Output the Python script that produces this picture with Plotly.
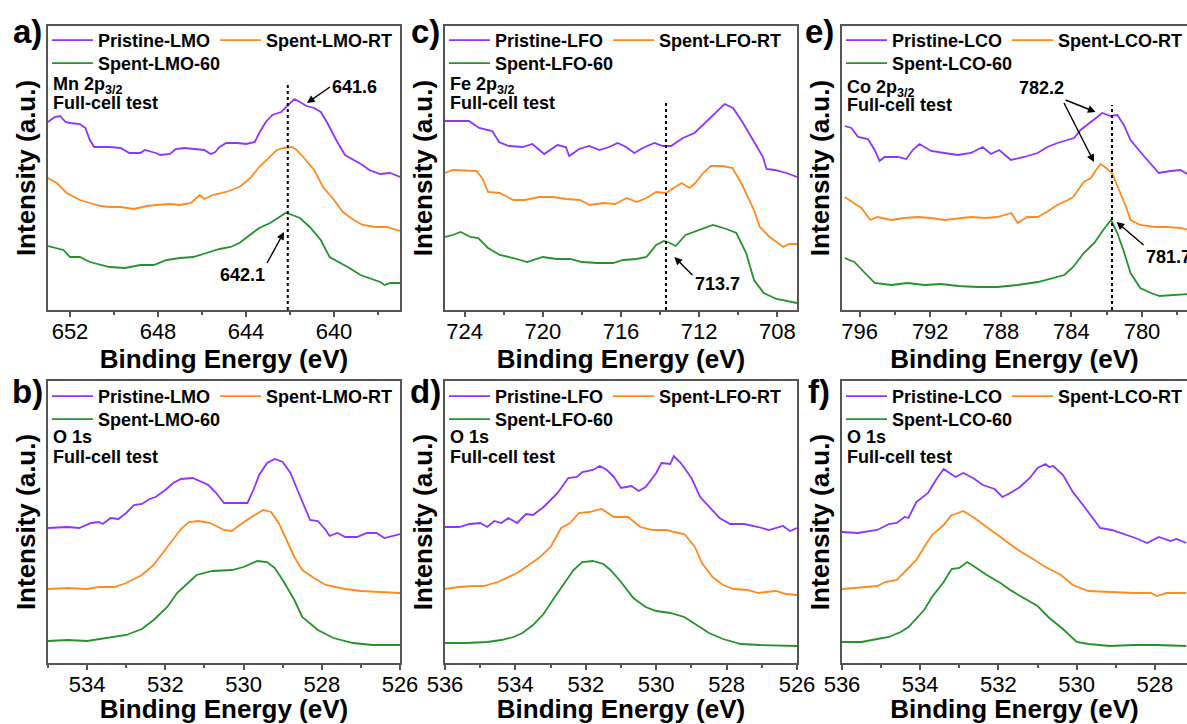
import numpy as np
import plotly.graph_objects as go

FONT = "Liberation Sans, Arial, sans-serif"
W, H = 1187, 724
PURPLE = "#8F33FF"
ORANGE = "#FF8A1F"
GREEN = "#23932A"
FRAME = "#555555"

# ---------------- data (binding energy eV, offset intensity a.u.) -------------
# a) Mn 2p3/2
mn_pristine_be = [653.0, 652.7, 652.45, 652.2, 652.0, 651.55, 651.3, 651.1, 650.9, 650.2, 649.7, 649.3, 648.8, 648.6,
                  648.1, 647.9, 647.45, 647.2, 646.8, 646.3, 645.9, 645.6, 645.4, 645.2, 644.9, 644.4, 644.0, 643.6,
                  643.4, 643.1, 642.8, 642.4, 642.15, 641.95, 641.8, 641.55, 641.25, 640.9, 640.6, 640.3, 639.9,
                  639.5, 639.1, 638.7, 638.4, 637.9, 637.45, 637.0]
mn_pristine_int = [188, 193, 194, 188, 187, 186, 182, 170, 163, 163, 162, 157, 157, 160, 157, 155, 156, 161, 162, 161,
                   160, 156, 158, 163, 167, 167, 166, 168, 177, 188, 195, 198, 203, 208, 211, 208, 204, 202, 198, 187,
                   170, 155, 150, 145, 140, 136, 137, 133]
mn_rt_be = [653.0, 652.6, 652.15, 651.55, 651.1, 650.6, 650.2, 649.7, 649.1, 648.5, 648.1, 647.45, 647.0, 646.5,
            646.1, 645.9, 645.5, 644.9, 644.3, 643.8, 643.4, 642.9, 642.6, 642.3, 641.9, 641.7, 641.4, 640.9,
            640.5, 640.0, 639.6, 639.1, 638.7, 638.1, 637.6, 637.0]
mn_rt_int = [132, 127, 117, 110, 107, 104, 103, 103, 101, 104, 105, 106, 105, 107, 115, 111, 115, 118, 123, 132, 143,
             153, 160, 162, 163, 160, 153, 140, 123, 110, 98, 90, 85, 83, 83, 79]
mn_60_be = [653.0, 652.6, 652.3, 652.0, 651.55, 651.1, 650.6, 650.2, 649.5, 648.8, 648.2, 647.6, 647.0, 646.4, 645.8,
            645.2, 644.7, 644.3, 643.7, 643.4, 642.9, 642.45, 642.2, 641.9, 641.55, 641.1, 640.6, 640.2, 639.7,
            639.3, 638.8, 638.4, 637.9, 637.7, 637.45, 637.0]
mn_60_int = [64, 62, 60, 53, 53, 48, 45, 43, 42, 45, 45, 50, 52, 53, 57, 61, 63, 67, 77, 82, 87, 93, 97, 95, 92, 83,
             70, 53, 47, 42, 35, 32, 28, 25, 27, 27]

# c) Fe 2p3/2
fe_pristine_be = [725.0, 723.78, 723.26, 722.58, 722.24, 721.73, 721.04, 720.53, 719.93, 719.25, 718.82, 718.65,
                  718.14, 717.62, 717.11, 716.6, 716.17, 715.74, 715.32, 714.89, 714.29, 713.86, 713.44, 712.84,
                  712.24, 711.81, 711.3, 710.7, 710.27, 709.76, 709.25, 708.74, 708.56, 708.14, 707.54, 707.0]
fe_pristine_int = [189, 189, 182, 179, 168, 164, 163, 166, 156, 165, 163, 154, 161, 164, 160, 163, 167, 163, 157, 162,
                   167, 164, 164, 172, 177, 185, 195, 206, 202, 187, 170, 153, 141, 140, 137, 133]
fe_rt_be = [725.0, 724.6, 723.4, 723.1, 722.8, 722.2, 721.5, 720.9, 720.2, 719.5, 718.8, 718.1, 717.6, 716.9, 716.3,
            715.7, 715.2, 714.7, 714.2, 713.7, 713.3, 712.9, 712.5, 712.2, 711.8, 711.4, 710.8, 710.3, 709.8, 709.2,
            708.9, 708.4, 707.7, 707.4, 707.0]
fe_rt_int = [137, 140, 139, 132, 118, 117, 110, 110, 113, 113, 111, 110, 105, 107, 106, 112, 108, 112, 118, 117, 122,
             127, 122, 127, 137, 144, 144, 142, 125, 100, 83, 73, 63, 66, 66]
fe_60_be = [725.0, 724.6, 724.2, 723.7, 723.3, 722.8, 722.2, 721.5, 720.8, 720.0, 719.3, 718.6, 718.0, 717.2, 716.4,
            715.9, 715.2, 714.7, 714.2, 713.8, 713.5, 713.2, 712.7, 712.0, 711.3, 710.6, 710.1, 709.6, 709.2, 708.7,
            708.05, 707.0]
fe_60_int = [73, 75, 78, 73, 72, 62, 55, 52, 48, 53, 51, 51, 48, 47, 47, 50, 51, 53, 65, 69, 67, 64, 75, 80, 85, 81,
             77, 57, 30, 17, 11, 7]

# e) Co 2p3/2
co_pristine_be = [796.85, 796.47, 796.09, 795.53, 795.15, 794.87, 794.59, 793.83, 793.36, 792.99, 792.61, 791.95,
                  791.2, 790.44, 789.69, 789.03, 788.56, 788.09, 787.43, 786.68, 785.92, 785.36, 784.79, 783.85,
                  783.48, 782.91, 782.25, 781.78, 781.4, 781.03, 780.65, 780.09, 779.52, 779.05, 778.39, 777.83,
                  777.43]
co_pristine_int = [184, 182, 173, 171, 160, 149, 153, 153, 151, 160, 166, 159, 157, 155, 157, 163, 156, 160, 150, 153,
                   157, 163, 167, 172, 180, 188, 197, 194, 195, 185, 170, 158, 147, 137, 139, 140, 136]
co_rt_be = [796.85, 796.3, 795.9, 795.4, 795.0, 794.2, 793.5, 792.7, 791.95, 791.2, 790.4, 789.7, 788.9, 788.2,
            787.4, 787.05, 786.5, 785.9, 785.4, 784.8, 784.2, 783.9, 783.3, 782.9, 782.6, 782.35, 782.1, 781.7,
            781.3, 780.9, 780.65, 780.1, 779.3, 778.6, 777.8, 777.4]
co_rt_int = [113, 107, 102, 90, 93, 90, 92, 93, 92, 90, 92, 93, 92, 93, 97, 87, 93, 93, 98, 105, 110, 113, 128, 132,
             140, 146, 143, 137, 120, 103, 90, 85, 83, 83, 82, 80]
co_60_be = [796.85, 796.3, 795.7, 795.15, 794.2, 793.3, 792.3, 791.4, 790.4, 789.3, 788.2, 787.05, 785.9, 785.2,
            784.4, 783.9, 783.3, 782.7, 782.2, 781.75, 781.4, 781.0, 780.65, 780.1, 779.5, 779.0, 778.2, 777.4]
co_60_int = [52, 48, 37, 27, 25, 27, 25, 26, 24, 23, 23, 25, 28, 31, 35, 43, 57, 67, 80, 90, 77, 57, 37, 22, 17, 14,
             15, 16]

# b) O 1s (LMO)
lmo_o_pristine_be = [535.0, 534.5, 534.2, 533.9, 533.7, 533.6, 533.4, 533.2, 533.0, 532.8, 532.6, 532.4, 532.25,
                     532.0, 531.8, 531.6, 531.3, 530.9, 530.7, 530.5, 530.25, 529.9, 529.75, 529.6, 529.4, 529.2,
                     529.0, 528.8, 528.6, 528.4, 528.3, 528.1, 527.9, 527.8, 527.6, 527.4, 527.1, 526.85, 526.6,
                     526.4, 526.0]
lmo_o_pristine_int = [135, 136, 135, 140, 141, 139, 145, 144, 150, 158, 159, 164, 166, 173, 180, 184, 185, 178, 170,
                      160, 160, 160, 173, 188, 200, 204, 201, 190, 171, 151, 143, 142, 133, 127, 130, 126, 126, 130,
                      130, 125, 129]
lmo_o_rt_be = [535.0, 534.5, 534.0, 533.7, 533.3, 533.0, 532.6, 532.3, 531.95, 531.6, 531.4, 531.15, 530.85, 530.5,
               530.3, 530.1, 529.8, 529.5, 529.3, 529.1, 528.9, 528.7, 528.5, 528.2, 527.9, 527.4, 527.0, 526.6,
               526.0]
lmo_o_rt_int = [74, 75, 74, 76, 76, 80, 88, 98, 116, 134, 141, 142, 140, 133, 132, 138, 146, 153, 151, 140, 123, 106,
                93, 85, 78, 74, 72, 71, 70]
lmo_o_60_be = [535.0, 534.5, 534.0, 533.5, 533.0, 532.6, 532.3, 531.95, 531.7, 531.45, 531.2, 530.8, 530.3, 530.0,
               529.65, 529.4, 529.2, 529.0, 528.7, 528.5, 528.1, 527.7, 527.2, 526.7, 526.0]
lmo_o_60_int = [22, 23, 22, 25, 28, 34, 43, 56, 70, 79, 88, 92, 93, 96, 102, 101, 95, 83, 63, 46, 33, 25, 20, 18, 18]

# d) O 1s (LFO)
lfo_o_pristine_be = [536.0, 535.6, 535.3, 535.0, 534.8, 534.6, 534.4, 534.2, 533.95, 533.7, 533.5, 533.2, 532.8,
                     532.5, 532.25, 532.1, 531.8, 531.6, 531.4, 531.2, 531.0, 530.7, 530.5, 530.3, 530.0, 529.85,
                     529.6, 529.5, 529.3, 529.0, 528.75, 528.5, 528.2, 527.9, 527.5, 527.1, 526.8, 526.4, 526.2,
                     526.0]
lfo_o_pristine_int = [136, 136, 139, 140, 136, 142, 140, 145, 140, 149, 148, 156, 170, 185, 186, 191, 193, 197, 193,
                      186, 175, 177, 172, 176, 190, 200, 199, 207, 200, 185, 166, 156, 145, 139, 139, 136, 133, 137,
                      132, 135]
lfo_o_rt_be = [536.0, 535.6, 535.2, 534.9, 534.5, 534.25, 533.95, 533.7, 533.3, 533.0, 532.7, 532.45, 532.2, 531.9,
               531.55, 531.2, 530.8, 530.45, 530.1, 529.7, 529.5, 529.2, 528.9, 528.7, 528.4, 528.1, 527.8, 527.4,
               527.1, 526.9, 526.6, 526.3, 526.0]
lfo_o_rt_int = [74, 76, 77, 77, 81, 85, 90, 96, 106, 116, 135, 140, 150, 151, 154, 146, 146, 136, 133, 133, 131, 129,
                116, 100, 86, 78, 74, 73, 70, 71, 72, 69, 68]
lfo_o_60_be = [536.0, 535.4, 534.8, 534.4, 534.05, 533.8, 533.5, 533.2, 532.9, 532.6, 532.35, 532.1, 531.8, 531.5,
               531.3, 531.0, 530.65, 530.3, 530.0, 529.6, 529.2, 528.85, 528.5, 528.1, 527.6, 527.05, 526.0]
lfo_o_60_int = [20, 20, 21, 23, 26, 30, 38, 49, 65, 81, 93, 101, 102, 99, 93, 81, 65, 56, 52, 50, 46, 38, 30, 24, 19,
                18, 17]

# f) O 1s (LCO)
lco_o_pristine_be = [536.0, 535.6, 535.1, 534.8, 534.6, 534.4, 534.3, 534.1, 533.8, 533.6, 533.4, 533.1, 532.9,
                     532.65, 532.4, 532.1, 531.9, 531.7, 531.45, 531.2, 531.0, 530.8, 530.7, 530.6, 530.35, 530.1,
                     529.8, 529.6, 529.4, 529.1, 528.8, 528.5, 528.2, 527.9, 527.6, 527.45, 527.2]
lco_o_pristine_int = [131, 130, 133, 139, 140, 146, 145, 161, 170, 183, 194, 186, 190, 185, 178, 174, 166, 170, 176,
                      185, 195, 199, 196, 197, 188, 171, 156, 146, 135, 133, 129, 125, 120, 126, 122, 124, 120]
lco_o_rt_be = [536.0, 535.5, 535.1, 534.9, 534.6, 534.35, 534.1, 533.9, 533.7, 533.4, 533.2, 533.1, 532.9, 532.65,
               532.3, 531.95, 531.5, 531.2, 530.8, 530.4, 530.1, 529.7, 529.15, 528.55, 528.1, 527.95, 527.7, 527.2]
lco_o_rt_int = [74, 76, 77, 81, 83, 93, 103, 116, 128, 138, 148, 149, 152, 146, 136, 126, 113, 106, 96, 88, 78, 72,
                71, 70, 70, 67, 70, 70]
lco_o_60_be = [536.0, 535.5, 535.1, 534.8, 534.5, 534.3, 533.9, 533.7, 533.4, 533.2, 533.0, 532.8, 532.6, 532.3,
               531.95, 531.7, 531.4, 531.0, 530.7, 530.35, 530.0, 529.7, 529.15, 528.55, 527.95, 527.2]
lco_o_60_int = [21, 21, 24, 26, 31, 36, 53, 66, 81, 94, 95, 101, 96, 88, 80, 73, 66, 57, 45, 34, 21, 19, 17, 18, 18,
                17]

# dashed reference energies (eV) and their annotated peak values
ref_energy = {"a": 642.1, "c": 713.7, "e": 781.7}
peak_labels = {"a": ["641.6", "642.1"], "c": ["713.7"], "e": ["782.2", "781.7"]}

series_names = {
    "a": ["Pristine-LMO", "Spent-LMO-RT", "Spent-LMO-60"],
    "b": ["Pristine-LMO", "Spent-LMO-RT", "Spent-LMO-60"],
    "c": ["Pristine-LFO", "Spent-LFO-RT", "Spent-LFO-60"],
    "d": ["Pristine-LFO", "Spent-LFO-RT", "Spent-LFO-60"],
    "e": ["Pristine-LCO", "Spent-LCO-RT", "Spent-LCO-60"],
    "f": ["Pristine-LCO", "Spent-LCO-RT", "Spent-LCO-60"],
}
core_level = {"a": "Mn 2p<sub>3/2</sub>", "c": "Fe 2p<sub>3/2</sub>", "e": "Co 2p<sub>3/2</sub>",
              "b": "O 1s", "d": "O 1s", "f": "O 1s"}

panel_data = {
    "a": [(mn_pristine_be, mn_pristine_int), (mn_rt_be, mn_rt_int), (mn_60_be, mn_60_int)],
    "c": [(fe_pristine_be, fe_pristine_int), (fe_rt_be, fe_rt_int), (fe_60_be, fe_60_int)],
    "e": [(co_pristine_be, co_pristine_int), (co_rt_be, co_rt_int), (co_60_be, co_60_int)],
    "b": [(lmo_o_pristine_be, lmo_o_pristine_int), (lmo_o_rt_be, lmo_o_rt_int), (lmo_o_60_be, lmo_o_60_int)],
    "d": [(lfo_o_pristine_be, lfo_o_pristine_int), (lfo_o_rt_be, lfo_o_rt_int), (lfo_o_60_be, lfo_o_60_int)],
    "f": [(lco_o_pristine_be, lco_o_pristine_int), (lco_o_rt_be, lco_o_rt_int), (lco_o_60_be, lco_o_60_int)],
}

# ---------------- layout (pixel geometry) ----------------
def px(x):
    return x / W


def py(y):
    return 1 - y / H


col_px = {0: (48, 400), 1: (445, 797), 2: (842, 1187)}
row_px = {0: (26, 310), 1: (381, 663)}
panel_pos = {"a": (0, 0), "b": (1, 0), "c": (0, 1), "d": (1, 1), "e": (0, 2), "f": (1, 2)}
xranges = {"a": [653, 637], "c": [725, 707], "e": [797, 777.45],
           "b": [535, 526], "d": [536, 526], "f": [536, 527.18]}
xticks = {"a": (640, 4, 2), "c": (708, 4, 2), "e": (780, 4, 2),
          "b": (526, 2, 1), "d": (526, 2, 1), "f": (528, 2, 1)}
yranges = {0: [0, 284], 1: [0, 282]}

COLORS = [PURPLE, ORANGE, GREEN]

fig = go.Figure()
layout = dict(width=W, height=H, margin=dict(l=0, r=0, t=0, b=0, autoexpand=False),
              plot_bgcolor="white", paper_bgcolor="white", showlegend=True)
annotations = []

legend_idx = 1
for i, key in enumerate(["a", "b", "c", "d", "e", "f"]):
    r, c = panel_pos[key]
    n = i + 1
    xa = "x" if n == 1 else f"x{n}"
    ya = "y" if n == 1 else f"y{n}"
    xl = "xaxis" if n == 1 else f"xaxis{n}"
    yl = "yaxis" if n == 1 else f"yaxis{n}"
    x0p, x1p = col_px[c]
    y0p, y1p = row_px[r]
    last_col = (c == 2)
    t0, dt, mdt = xticks[key]
    layout[xl] = dict(
        domain=[px(x0p), px(x1p)], anchor=ya, range=xranges[key],
        showline=True, linecolor=FRAME, linewidth=1.5, mirror=True,
        ticks="outside", ticklen=5, tickwidth=1.5, tickcolor=FRAME,
        tick0=t0, dtick=dt, ticklabelstandoff=-4,
        minor=dict(dtick=mdt, tick0=t0, ticks="outside", ticklen=3, tickwidth=1.5, tickcolor=FRAME),
        tickfont=dict(family=FONT, size=22, color="black"),
        title=dict(text="Binding Energy (eV)", standoff=2,
                   font=dict(family=FONT, size=26, color="black", weight="bold")),
        showgrid=False, zeroline=False, fixedrange=True, automargin=False,
    )
    layout[yl] = dict(
        domain=[py(y1p), py(y0p)], anchor=xa, range=yranges[r],
        showline=True, linecolor=FRAME, linewidth=1.5, mirror=not last_col,
        ticks="", showticklabels=False,
        title=dict(text="Intensity (a.u.)", standoff=3,
                   font=dict(family=FONT, size=26, color="black", weight="bold")),
        showgrid=False, zeroline=False, fixedrange=True, automargin=False,
    )
    lgA = "legend" if legend_idx == 1 else f"legend{legend_idx}"
    lgB = f"legend{legend_idx + 1}"
    for j, (be, inten) in enumerate(panel_data[key]):
        fig.add_trace(go.Scatter(
            x=be, y=inten, mode="lines", name=series_names[key][j],
            line=dict(color=COLORS[j], width=1.8),
            xaxis=xa, yaxis=ya, legend=lgA if j < 2 else lgB, showlegend=True,
        ))
    leg_common = dict(orientation="h", xanchor="left", yanchor="top",
                      bgcolor="rgba(0,0,0,0)", borderwidth=0, itemwidth=41,
                      font=dict(family=FONT, size=18, color="black", weight="bold"),
                      traceorder="normal")
    row_line_y = 39 if r == 0 else 395
    layout[lgA] = dict(x=px(x0p - 1), y=py(row_line_y - 17), **leg_common)
    layout[lgB] = dict(x=px(x0p - 1), y=py(row_line_y + 6), **leg_common)
    legend_idx += 2

    # panel letter
    letter_x = {0: 27, 1: 425, 2: 819}[c]
    letter_y = 31 if r == 0 else 391
    annotations.append(dict(text=f"<b>{key})</b>", x=px(letter_x), y=py(letter_y), xref="paper", yref="paper",
                            xanchor="center", yanchor="middle", showarrow=False,
                            font=dict(family=FONT, size=33, color="black")))
    # core-level + test labels
    lab_x = x0p + 3
    if r == 0:
        lab_y1, lab_y2 = (85, 102.5) if c < 2 else (88, 105.5)
    else:
        lab_y1, lab_y2 = 437, 456.5
    annotations.append(dict(text=f"<b>{core_level[key]}</b>", x=px(lab_x), y=py(lab_y1), xref="paper",
                            yref="paper", xanchor="left", yanchor="middle", showarrow=False,
                            font=dict(family=FONT, size=18, color="black")))
    annotations.append(dict(text="<b>Full-cell test</b>", x=px(lab_x), y=py(lab_y2), xref="paper",
                            yref="paper", xanchor="left", yanchor="middle", showarrow=False,
                            font=dict(family=FONT, size=18, color="black")))

    # dotted reference line
    if key in ref_energy:
        top = {"a": 227, "c": 207, "e": 205}[key]
        fig.add_trace(go.Scatter(x=[ref_energy[key]] * 2, y=[0, top], mode="lines",
                                 line=dict(color="black", width=2, dash="dot"), showlegend=False,
                                 xaxis=xa, yaxis=ya, hoverinfo="skip"))

# peak-label arrows: head in data coords, tail offset in px, text index (None = arrow only), anchors
arrow_specs = {
    "a": [(641.23, 207, 23, -16, 0, "left", "middle"), (642.27, 78, -17, 31, 1, "right", "top")],
    "c": [(713.27, 53, 18, 18, None, "left", "top")],
    "e": [(782.63, 198, -30, -12, 0, "right", "bottom"), (782.72, 148, -30, -59, None, "right", "bottom"),
          (781.44, 88, 27, 23, 1, "left", "top")],
}
# separately placed label (data coords of text centre)
free_labels = {"c": [(711.09, 26.5, 0)]}
axis_num = {"a": 1, "c": 3, "e": 5}
for key, specs in arrow_specs.items():
    n = axis_num[key]
    xa = "x" if n == 1 else f"x{n}"
    ya = "y" if n == 1 else f"y{n}"
    for (hx, hy, ax, ay, k, xan, yan) in specs:
        txt = "" if k is None else f"<b>{peak_labels[key][k]}</b>"
        annotations.append(dict(x=hx, y=hy, xref=xa, yref=ya, ax=ax, ay=ay, text=txt, showarrow=True,
                                xanchor=xan, yanchor=yan,
                                arrowhead=2, arrowsize=1.1, arrowwidth=1.4, arrowcolor="black",
                                font=dict(family=FONT, size=18, color="black")))
    for (tx, ty, k) in free_labels.get(key, []):
        annotations.append(dict(x=tx, y=ty, xref=xa, yref=ya, text=f"<b>{peak_labels[key][k]}</b>",
                                showarrow=False, xanchor="center", yanchor="middle",
                                font=dict(family=FONT, size=18, color="black")))

layout["annotations"] = annotations
fig.update_layout(**layout)
fig.write_html("out.html")
